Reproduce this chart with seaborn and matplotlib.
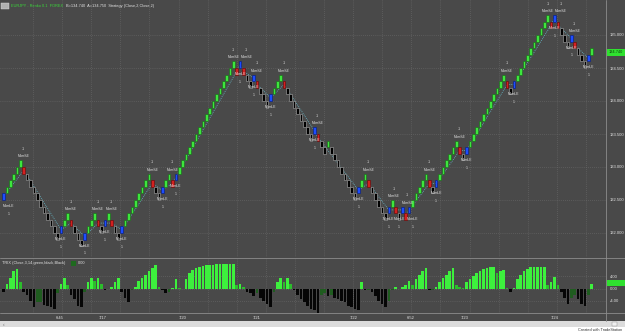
import numpy as np
import pandas as pd
import matplotlib
matplotlib.use("Agg")
import matplotlib.pyplot as plt
from matplotlib.patches import Rectangle
from matplotlib.lines import Line2D
import seaborn as sns

# ---------------- data ----------------
brick_size = 0.1
first_close = 132.6
# consecutive renko bricks: +n = n up bricks, -n = n down bricks
brick_runs = [6, -11, 3, -4, 4, -2, 2, -3, 9, -3, 3, -1, 18, -1, 1, -3, 1, -4, 4, -9,
              1, -3, 1, -8, 3, -6, 2, -2, 1, -1, 6, -2, 7, -2, 12, -2, 11, -1, 1, -4,
              1, -4, 2]
le_cols = [0, 17, 24, 30, 35, 47, 51, 70, 74, 79, 92, 105, 114, 118, 120, 128, 137,
           151, 163, 168, 173]
se_cols = [6, 20, 28, 32, 44, 50, 69, 71, 75, 83, 93, 108, 116, 119, 126, 135, 149,
           162, 164, 169]
trix_values = [
    -1.0, 1.5, 3.5, 5.5, 6.4, 2.0,
    -1.0,
    -2, -4, -6, -4.5, -4.5, -5.2, -5.7, -6, -6.6, -1.5,
    1.5, 3.5, 1.0,
    -2, -3.5, -5.5, -6, -1,
    2, 3.5, 2.5, 3.5, 1.5,
    -0.5, -0.3, 0.5,
    2, 3.5,
    -1, -3, -4.5, -0.5, 0.5,
    2.5, 3.5, 4.5, 5.5, 6.5, 7.5,
    0.5, -0.5, -1.5, -1.0, 0.3, 3.0, 0.2, -0.3,
    3, 5, 6, 6.6, 7.0, 7.3, 7.5, 7.6, 7.7, 7.8, 7.8, 7.8, 7.8, 7.8, 7.8,
    1, 1.5, 0.5,
    -1, -1.5, -2.5, -1.5,
    -3, -4, -5, -6, -1,
    2, 3.5, 2, 3.5, 1.5,
    -0.5,
    -2, -3.5, -4.5, -5.5, -6.5, -7, -8,
    -2,
    -1.5, -2.5, -2, -3, -3.5, -4, -4.5, -5.5, -6, -6.5, -7,
    2,
    -0.5, -0.5,
    -1, -2.5, -4, -5, -6, -4,
    -0.5, 0.5, -0.3, 0.5,
    1, 2.5, 1,
    3, 4.5, 5.5, 6.5,
    -0.5, -0.5, 0.5,
    2, 3.5, 4.5, 5.5, 6.5,
    1, 0.5, 0.3,
    2, 3, 4, 5, 5.8, 6.3, 6.7, 7, 7, 5, 5.5, 6,
    0.3, -1, 0.3,
    3, 4.5, 5.5, 6.3, 6.8, 7, 7, 7, 7,
    1, 2, 3.8, 1,
    -1, -3, -5, -3, -2, -3.5, -5, -5.5, -2, 1.5,
]
price_ticks = [132.0, 132.5, 133.0, 133.5, 134.0, 134.5, 135.0]
trix_ticks = [-4.0, 0.0, 4.0]
date_cols = [16.7, 29.4, 53.1, 75.0, 103.7, 120.6, 136.5, 163.2]
date_labels = ["6:45", "7/17", "7/20", "7/21", "7/22", "6:52", "7/23", "7/24"]
symbol_text = "EURJPY - Renko 0.1  FOREX"
quote_text = "B=134.740  A=134.750  Strategy (Close,2,Close,2)"
trix_title = "TRIX (Close,3,14,green,black,Black)"
trix_last_text = "0.00"
last_price = 134.74
credit_text = "Created with TradeStation"

# ---------------- build renko bricks ----------------
lows, dirs = [], []
close, d_prev = None, 0
for run in brick_runs:
    d = 1 if run > 0 else -1
    for _ in range(abs(run)):
        if close is None:
            close = first_close
        elif d == d_prev:
            close = round(close + d * brick_size, 4)
        else:
            close = round(close + 2 * d * brick_size, 4)
        d_prev = d
        lows.append(round(close - brick_size, 4) if d > 0 else close)
        dirs.append(d)
cols = np.arange(len(lows))
lows = np.array(lows)

# ---------------- style ----------------
sns.set_style("dark")
BG = "#494949"
TXT = "#e2e2e2"
plt.rcParams["font.family"] = ["Liberation Sans", "DejaVu Sans"]

W, H = 625, 332
fig = plt.figure(figsize=(6.25, 3.32), dpi=100)
fig.patch.set_facecolor(BG)

def fx(px):
    return px / W

def fy(py):
    return 1 - py / H

PX_PER_COL = 3.38
X0 = 3.5

def px2col(px):
    return (px - X0) / PX_PER_COL

ax = fig.add_axes([0, fy(257), fx(606), 257 / H])
axi = fig.add_axes([0, fy(313), fx(606), (313 - 258) / H])
for a in (ax, axi):
    a.set_facecolor(BG)
    for s in a.spines.values():
        s.set_visible(False)

x_lo, x_hi = px2col(0), px2col(606)
grid_cols = [px2col(33 + 29.1 * k) for k in range(20)]
grid_kw = dict(color="#6e6e6e", linestyle=(0, (1, 2)), linewidth=0.5)

# ---------------- price panel ----------------
up_face, up_edge = "#3de63d", "#1d6a1d"
dn_face, dn_edge = "#000000", "#a0a0a0"
faces = [up_face if d > 0 else dn_face for d in dirs]
edges = [up_edge if d > 0 else dn_edge for d in dirs]
for c in le_cols:
    faces[c], edges[c] = "#1d4dff", "#0a1e80"
for c in se_cols:
    faces[c], edges[c] = "#d42020", "#6a0a0a"

# trade lines between entries
entries = sorted(le_cols + se_cols)
entry_px = [lows[c] + brick_size / 2 for c in entries]
ax.plot(entries, entry_px, color="#67bccd", linestyle=(0, (1, 1.4)), linewidth=0.6, zorder=1.5)

ax.bar(cols, np.full(len(cols), brick_size), bottom=lows, width=0.78,
       color=faces, edgecolor=edges, linewidth=0.45, zorder=2)


def spread(positions, minsep):
    """place labels side by side when they would collide"""
    pos = [float(p) for p in positions]
    groups, cur = [], [0]
    for i in range(1, len(pos)):
        if pos[i] - pos[i - 1] < minsep:
            cur.append(i)
        else:
            groups.append(cur)
            cur = [i]
    groups.append(cur)
    out = pos[:]
    for g in groups:
        if len(g) == 1:
            continue
        mean = np.mean([pos[i] for i in g])
        n = len(g)
        for k, i in enumerate(g):
            out[i] = mean + (k - (n - 1) / 2) * minsep
    return out


lab_kw = dict(fontsize=2.4, color=TXT, ha="center", zorder=4, clip_on=False)
le_x = spread(le_cols, 3.9)
se_x = spread(se_cols, 3.9)
for c, xc in zip(le_cols, le_x):
    b = lows[c]
    xc = max(xc, 1.6)
    ax.text(xc, b - 0.09, "MomLE", va="center", **lab_kw)
    ax.text(xc, b - 0.21, "1", va="center", **lab_kw)
for c, xc in zip(se_cols, se_x):
    top = lows[c] + 0.2
    ax.text(xc, top + 0.06, "MomSE", va="center", **lab_kw)
    ax.text(xc, top + 0.17, "-1", va="center", **lab_kw)

ax.set_xlim(x_lo, x_hi)
ax.set_ylim(135 - (257 - 35) / 66, 135 + 35 / 66)
ax.yaxis.tick_right()
ax.set_yticks(price_ticks)
ax.set_yticklabels([f"{v:.3f}" for v in price_ticks])
ax.set_xticks(grid_cols)
ax.set_xticklabels([])
ax.tick_params(axis="both", length=0, labelsize=3.0, labelcolor=TXT, pad=2.5)
ax.grid(True, **grid_kw)
ax.set_axisbelow(True)

# ---------------- TRIX panel ----------------
shade = []
for i, v in enumerate(trix_values):
    p = trix_values[i - 1] if i > 0 else 0
    if v >= 0:
        shade.append("pos_up" if v >= p else "pos_dn")
    else:
        shade.append("neg_dn" if v < p else "neg_up")
df = pd.DataFrame({"col": cols, "trix": trix_values, "shade": shade})
pal = {"pos_up": "#3df03d", "pos_dn": "#2cbd2c", "neg_dn": "#060606", "neg_up": "#1f5c1f"}
sns.barplot(data=df, x="col", y="trix", hue="shade", palette=pal, native_scale=True,
            dodge=False, legend=False, width=0.78, saturation=1, linewidth=0, ax=axi)
axi.set_xlim(x_lo, x_hi)
axi.set_ylim(-7.9, (288.5 - 258) / 3.1)
axi.set_xlabel("")
axi.set_ylabel("")
axi.yaxis.tick_right()
axi.set_yticks(trix_ticks)
axi.set_yticklabels([f"{v:.2f}" for v in trix_ticks])
axi.set_xticks(grid_cols, minor=False)
axi.set_xticklabels([])
axi.tick_params(axis="both", length=0, labelsize=3.0, labelcolor=TXT, pad=2.5)
axi.grid(True, **grid_kw)
axi.set_axisbelow(True)
for c, lab in zip(date_cols, date_labels):
    axi.text(c, -0.09, lab, transform=axi.get_xaxis_transform(), fontsize=3.0,
             color=TXT, ha="center", va="center", clip_on=False)

# ---------------- frame lines, header, footer ----------------
line_c = "#8c8c8c"
fig.add_artist(Line2D([fx(606), fx(606)], [fy(321), 1], color=line_c, lw=0.6))
fig.add_artist(Line2D([0, 1], [fy(257.5), fy(257.5)], color=line_c, lw=0.6))
fig.add_artist(Line2D([0, 1], [fy(313), fy(313)], color=line_c, lw=0.6))

fig.add_artist(Rectangle((fx(1), fy(9)), fx(8), 6 / H, facecolor="#b0b0b0", edgecolor="#dddddd", lw=0.3))
fig.text(fx(11), fy(6), symbol_text, fontsize=2.8, color="#3ad83a", va="center")
fig.text(fx(66), fy(6), quote_text, fontsize=2.8, color=TXT, va="center")

# last price box
py = 35 + (135 - last_price) * 66
fig.add_artist(Rectangle((fx(607), fy(py + 3.5)), fx(18), 7 / H, facecolor="#2fe02f", edgecolor="none"))
fig.text(fx(616), fy(py), f"{last_price:.3f}", fontsize=2.8, color="#0c3a0c", ha="center", va="center")

fig.text(fx(2), fy(263), trix_title, fontsize=2.8, color=TXT, va="center")
fig.add_artist(Rectangle((fx(71), fy(265.5)), fx(5), 5 / H, facecolor="#1f6a1f", edgecolor="none"))
fig.text(fx(78), fy(263), trix_last_text, fontsize=2.8, color=TXT, va="center")
fig.add_artist(Rectangle((fx(607), fy(286)), fx(18), 6 / H, facecolor="#2fe02f", edgecolor="none"))

# scrollbar + credit strip
fig.add_artist(Rectangle((0, fy(327)), 1, 6 / H, facecolor="#dcdcdc", edgecolor="none"))
fig.add_artist(Rectangle((0, 0), 1, 5 / H, facecolor="#ffffff", edgecolor="none"))
fig.text(fx(3), fy(324), "\u2039", fontsize=3.5, color="#666666", va="center")
fig.add_artist(Rectangle((fx(612), fy(326)), fx(5), 4 / H, facecolor="#f0f0f0", edgecolor="#888888", lw=0.3))
fig.text(fx(622), fy(329.8), credit_text, fontsize=2.8, color="#333333", ha="right", va="center")

fig.savefig("out.png", dpi=100, facecolor=BG)
